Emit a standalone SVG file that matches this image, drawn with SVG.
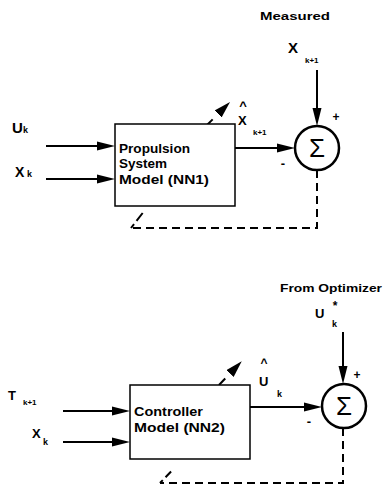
<svg xmlns="http://www.w3.org/2000/svg" width="384" height="485" viewBox="0 0 384 485">
<style>
  text { font-family: "Liberation Sans", Arial, sans-serif; font-weight: bold; fill: #000; }
  .box { fill: #fff; stroke: #000; stroke-width: 1.5; }
  .sum { fill: #fff; stroke: #000; stroke-width: 2.5; }
  .sigma { font-weight: normal; font-size: 26px; text-anchor: middle; }
  .wire { fill: none; stroke: #000; stroke-width: 2; }
  .dash { fill: none; stroke: #000; stroke-width: 2; stroke-dasharray: 8 5; }
</style>
<defs>
  <marker id="ah" markerUnits="userSpaceOnUse" markerWidth="18" markerHeight="10" viewBox="0 0 18 10" refX="14" refY="5" orient="auto">
    <path d="M0,0.5 L18,5 L0,9.5 Z" fill="#000"/>
  </marker>
  <marker id="ahd" markerUnits="userSpaceOnUse" markerWidth="17" markerHeight="10" viewBox="0 0 17 10" refX="0" refY="5" orient="auto">
    <path d="M0,0 L17,5 L0,10 Z" fill="#000"/>
  </marker>
</defs>
<rect width="384" height="485" fill="#fff"/>

<g id="connectors">
  <!-- top diagram -->
  <path class="wire" d="M46,146 H111" marker-end="url(#ah)"/>
  <path class="wire" d="M46,179 H111" marker-end="url(#ah)"/>
  <path class="wire" d="M235,148 H291" marker-end="url(#ah)"/>
  <path class="wire" d="M317,70 V122" marker-end="url(#ah)"/>
  <path class="dash" d="M317,170 V228 H131"/>
  <path class="wire" d="M131,228 L145,210" style="stroke-dasharray:5 4 10 20"/>
  <path class="wire" d="M207,125 L218,114" style="stroke-dasharray:8 20" marker-end="url(#ahd)"/>
  <!-- bottom diagram -->
  <path class="wire" d="M63,411 H126" marker-end="url(#ah)"/>
  <path class="wire" d="M63,442 H126" marker-end="url(#ah)"/>
  <path class="wire" d="M250,407 H318" marker-end="url(#ah)"/>
  <path class="wire" d="M343,332 V380" marker-end="url(#ah)"/>
  <path class="dash" d="M343,428 V483 H160"/>
  <path class="wire" d="M160,483 L182,460" style="stroke-dasharray:4 4 8 20"/>
  <path class="wire" d="M219,385 L230,373.5" style="stroke-dasharray:9 20" marker-end="url(#ahd)"/>
</g>

<!-- top diagram -->
<g id="label-measured">
  <text x="260" y="20" font-size="11" textLength="70" lengthAdjust="spacingAndGlyphs">Measured</text>
</g>
<g id="label-xk1-measured">
  <text x="288" y="53" font-size="15">X</text>
  <text x="305" y="63" font-size="8">k+1</text>
</g>
<g id="label-uk">
  <text x="12" y="133" font-size="15">U</text>
  <text x="23" y="133" font-size="9">k</text>
</g>
<g id="label-xk">
  <text x="15" y="177" font-size="14">X</text>
  <text x="27" y="177" font-size="9">k</text>
</g>
<g id="nn1">
  <rect class="box" x="115" y="124" width="120" height="82"/>
  <text x="119" y="153" font-size="13" textLength="71" lengthAdjust="spacingAndGlyphs">Propulsion</text>
  <text x="119" y="168" font-size="13" textLength="48" lengthAdjust="spacingAndGlyphs">System</text>
  <text x="119" y="184" font-size="13" textLength="90" lengthAdjust="spacingAndGlyphs">Model (NN1)</text>
</g>
<g id="label-xhat">
  <text x="243" y="110" font-size="13" text-anchor="middle">^</text>
  <text x="238" y="125" font-size="13">X</text>
  <text x="253" y="135" font-size="8">k+1</text>
</g>
<g id="sum1">
  <circle class="sum" cx="317" cy="148" r="22"/>
  <text class="sigma" x="317" y="157">Σ</text>
  <text x="336" y="121" font-size="12" text-anchor="middle">+</text>
  <text x="283" y="168" font-size="13" text-anchor="middle">-</text>
</g>

<!-- bottom diagram -->
<g id="label-from-optimizer">
  <text x="280" y="292" font-size="11" textLength="102" lengthAdjust="spacingAndGlyphs">From Optimizer</text>
</g>
<g id="label-ustar">
  <text x="315" y="318" font-size="13">U</text>
  <text x="335" y="310" font-size="12" text-anchor="middle">*</text>
  <text x="332" y="327" font-size="9">k</text>
</g>
<g id="label-tk1">
  <text x="8" y="400" font-size="13">T</text>
  <text x="23" y="405" font-size="8">k+1</text>
</g>
<g id="label-xk2">
  <text x="32" y="438" font-size="13">X</text>
  <text x="43" y="445" font-size="9">k</text>
</g>
<g id="nn2">
  <rect class="box" x="130" y="385" width="120" height="74"/>
  <text x="134" y="416" font-size="12" textLength="69" lengthAdjust="spacingAndGlyphs">Controller</text>
  <text x="134" y="432" font-size="12" textLength="91" lengthAdjust="spacingAndGlyphs">Model (NN2)</text>
</g>
<g id="label-uhat">
  <text x="264" y="367" font-size="12" text-anchor="middle">^</text>
  <text x="259" y="386" font-size="13">U</text>
  <text x="277" y="397" font-size="9">k</text>
</g>
<g id="sum2">
  <circle class="sum" cx="344" cy="406" r="22"/>
  <text class="sigma" x="344" y="415">Σ</text>
  <text x="357" y="379" font-size="12" text-anchor="middle">+</text>
  <text x="309" y="426" font-size="13" text-anchor="middle">-</text>
</g>
</svg>
